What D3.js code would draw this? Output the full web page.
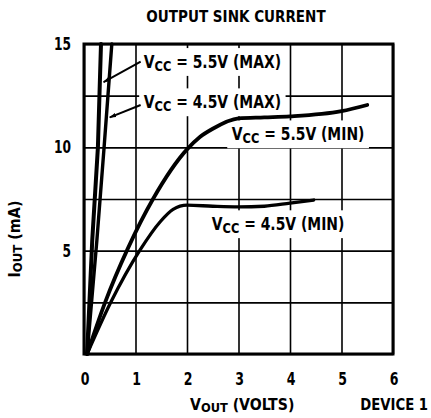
<!DOCTYPE html>
<html>
<head>
<meta charset="utf-8">
<script src="https://cdnjs.cloudflare.com/ajax/libs/d3/7.8.5/d3.min.js"></script>
<style>
  body { margin: 0; background: #fff; }
  svg text { font-family: "Liberation Sans Narrow", "DejaVu Sans Condensed", "Liberation Sans", sans-serif;
             font-weight: bold; fill: #000; }
  .grid line { stroke: #000; stroke-width: 1.6; }
  .grid path { display: none; }
  .curve { fill: none; stroke: #000; stroke-linecap: round; stroke-linejoin: round; }
</style>
</head>
<body>
<svg width="431" height="418"></svg>
<script>
// axis ticks
var voltTicks    = [0, 1, 2, 3, 4, 5, 6];
var currentTicks = [5, 10, 15];
var gridCurrent  = [0, 2.5, 5, 7.5, 10, 12.5, 15];

// curves: [VOUT volts, IOUT mA]
var vccMax55 = [[0.06, 0], [0.16, 5.5], [0.27, 10], [0.33, 15]];
var vccMax45 = [[0.06, 0], [0.25, 5.5], [0.39, 10], [0.54, 15]];
var vccMin55 = [[0.06, 0], [0.41, 2.5], [0.85, 5.1], [1.34, 7.5], [2.0, 9.9], [2.25, 10.5],
                [2.5, 10.9], [3.0, 11.4], [3.5, 11.45], [4.0, 11.5], [5.0, 11.75], [5.5, 12.05]];
var vccMin45 = [[0.06, 0], [0.52, 2.5], [1.08, 5.0], [1.48, 6.4], [1.73, 7.0], [2.0, 7.2],
                [2.5, 7.15], [3.0, 7.12], [3.5, 7.15], [4.0, 7.3], [4.46, 7.45]];

var labelText = ["5.5V (MAX)", "4.5V (MAX)", "5.5V (MIN)", "4.5V (MIN)"];

var svg = d3.select("svg");

var x = d3.scaleLinear().domain([0, 6]).range([84, 393]);
var y = d3.scaleLinear().domain([0, 15]).range([354, 44]);

// the datasheet face is a narrow bold gothic, so squeeze the text sideways
function at(px, py, sx) {
  return "translate(" + px + "," + py + ") scale(" + sx + ",1)";
}

// grid
svg.append("g")
  .attr("class", "grid")
  .attr("transform", "translate(0," + y(0) + ")")
  .call(d3.axisBottom(x).tickValues(voltTicks).tickSize(-(y(0) - y(15))).tickFormat(""));

svg.append("g")
  .attr("class", "grid")
  .attr("transform", "translate(" + x(0) + ",0)")
  .call(d3.axisLeft(y).tickValues(gridCurrent).tickSize(-(x(6) - x(0))).tickFormat(""));

var boxes = svg.append("g");

// frame
svg.append("rect")
  .attr("x", x(0)).attr("y", y(15))
  .attr("width", x(6) - x(0)).attr("height", y(0) - y(15))
  .attr("fill", "none").attr("stroke", "#000").attr("stroke-width", 3);

var lineMax = d3.line().x(d => x(d[0])).y(d => y(d[1]));
var lineMin = d3.line().x(d => x(d[0])).y(d => y(d[1])).curve(d3.curveMonotoneX);

svg.append("path").attr("class", "curve").attr("stroke-width", 4).attr("d", lineMax(vccMax55));
svg.append("path").attr("class", "curve").attr("stroke-width", 3.4).attr("d", lineMax(vccMax45));
svg.append("path").attr("class", "curve").attr("stroke-width", 3.8).attr("d", lineMin(vccMin55));
svg.append("path").attr("class", "curve").attr("stroke-width", 3.3).attr("d", lineMin(vccMin45));

// tick labels
svg.append("g").selectAll("text")
  .data(voltTicks)
  .enter().append("text")
    .attr("transform", d => at(x(d) + 1, 385, 0.82))
    .attr("text-anchor", "middle")
    .attr("font-size", 17)
    .text(d => d);

svg.append("g").selectAll("text")
  .data(currentTicks)
  .enter().append("text")
    .attr("transform", d => at(71, y(d) + 6, 0.8))
    .attr("text-anchor", "end")
    .attr("font-size", 17)
    .text(d => d);

// title and axis names
svg.append("text")
  .attr("transform", at(236, 22, 0.94))
  .attr("text-anchor", "middle")
  .attr("font-size", 16)
  .text("OUTPUT SINK CURRENT");

var xt = svg.append("text").attr("transform", at(190, 410, 0.98)).attr("font-size", 16);
xt.append("tspan").text("V");
xt.append("tspan").attr("font-size", 13).attr("dy", 2).text("OUT");
xt.append("tspan").attr("dy", -2).text(" (VOLTS)");

svg.append("text")
  .attr("transform", at(428, 410, 0.92))
  .attr("text-anchor", "end")
  .attr("font-size", 16)
  .text("DEVICE 1");

var yt = svg.append("text")
  .attr("transform", "translate(20,239) rotate(-90)")
  .attr("text-anchor", "middle")
  .attr("font-size", 16);
yt.append("tspan").text("I");
yt.append("tspan").attr("font-size", 13).attr("dy", 2).text("OUT");
yt.append("tspan").attr("dy", -2).text(" (mA)");

// arrow marker
svg.append("defs").append("marker")
  .attr("id", "head")
  .attr("viewBox", "0 0 10 6")
  .attr("refX", 9).attr("refY", 3)
  .attr("markerWidth", 7).attr("markerHeight", 5)
  .attr("markerUnits", "userSpaceOnUse")
  .attr("orient", "auto")
  .append("path").attr("d", "M0,0 L10,3 L0,6 z").attr("fill", "#000");

// curve labels: [volts, mA] of the text start, white patch behind each
function vccLabel(v, ma, txt) {
  var tr = at(x(v), y(ma), 0.91);
  var t = svg.append("text")
    .attr("transform", tr)
    .attr("font-size", 17);
  t.append("tspan").text("V");
  t.append("tspan").attr("font-size", 14).attr("dy", 3).text("CC");
  t.append("tspan").attr("dy", -3).text(" = " + txt);
  var b = t.node().getBBox();
  boxes.append("rect")
    .attr("transform", tr)
    .attr("x", b.x - 5).attr("y", b.y - 4)
    .attr("width", b.width + 10).attr("height", b.height + 6)
    .attr("fill", "#fff");
}

vccLabel(1.16, 13.85, labelText[0]);
vccLabel(1.16, 11.9, labelText[1]);
vccLabel(2.87, 10.35, labelText[2]);
vccLabel(2.48, 6.0, labelText[3]);

function arrow(v0, m0, v1, m1) {
  svg.append("line")
    .attr("x1", x(v0)).attr("y1", y(m0))
    .attr("x2", x(v1)).attr("y2", y(m1))
    .attr("stroke", "#000").attr("stroke-width", 2)
    .attr("marker-end", "url(#head)");
}
arrow(1.10, 14.15, 0.38, 13.15);
arrow(1.10, 12.05, 0.50, 11.45);
</script>
</body>
</html>
